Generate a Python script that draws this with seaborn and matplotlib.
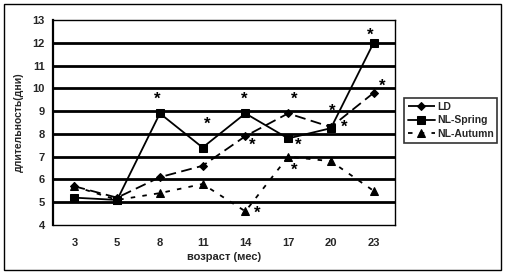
import numpy as np
import pandas as pd
import matplotlib
matplotlib.use("Agg")
import matplotlib.pyplot as plt
import seaborn as sns
from matplotlib.patches import Rectangle

# data
ages = ["3", "5", "8", "11", "14", "17", "20", "23"]
ld = [5.7, 5.2, 6.1, 6.6, 7.9, 8.9, 8.3, 9.8]
nl_spring = [5.2, 5.1, 8.9, 7.4, 8.9, 7.8, 8.25, 12.0]
nl_autumn = [5.7, 5.1, 5.4, 5.8, 4.6, 7.0, 6.8, 5.5]

# significance asterisks: (category position, value)
star_x = [1.93, 3.10, 3.97, 5.14, 6.03, 6.31, 6.92, 7.20, 4.15, 5.23, 5.14, 4.27]
star_y = [9.53, 8.43, 9.53, 9.53, 9.00, 8.30, 12.34, 10.10, 7.51, 7.51, 6.41, 4.53]

sns.set_style("white")
plt.rcParams['font.family'] = ['Liberation Sans', 'DejaVu Sans']
plt.rcParams['font.weight'] = 'bold'

df = pd.DataFrame({
    'pos': list(range(len(ages))) * 3,
    'val': ld + nl_spring + nl_autumn,
    'series': ['LD'] * 8 + ['NL-Spring'] * 8 + ['NL-Autumn'] * 8,
})

fig = plt.figure(figsize=(5.07, 2.73), dpi=100)
ax = fig.add_axes([53 / 507, 1 - 225 / 273, (395 - 53) / 507, 205 / 273])

styles = {
    'LD': dict(marker='D', markersize=4.5, dashes=(6, 3), lw=1.3),
    'NL-Spring': dict(marker='s', markersize=6, dashes=(None, None), lw=1.3),
    'NL-Autumn': dict(marker='^', markersize=6, dashes=(2.5, 4), lw=1.3),
}
for name in ['LD', 'NL-Spring', 'NL-Autumn']:
    st = styles[name]
    sub = df[df['series'] == name]
    kw = dict(data=sub, x='pos', y='val', ax=ax, color='black', label=name,
              marker=st['marker'], markersize=st['markersize'], lw=st['lw'],
              markeredgecolor='black', legend=False)
    line = sns.lineplot(**kw).lines[-1]
    if st['dashes'][0] is not None:
        line.set_dashes(st['dashes'])

for sx, sy in zip(star_x, star_y):
    ax.text(sx, sy, '*', ha='center', va='center', fontsize=12,
            fontweight='bold', color='black')

ax.set_xlim(-0.5, 7.5)
ax.set_ylim(4, 13)
ax.set_yticks(range(4, 14))
ax.set_xticks(range(len(ages)))
ax.set_xticklabels(ages)
ax.set_xticks(np.arange(-0.5, 8, 1), minor=True)
ax.tick_params(axis='x', which='major', length=0, labelsize=8, pad=9)
ax.tick_params(axis='x', which='minor', length=3, width=1, direction='out', color='black')
ax.tick_params(axis='y', length=3, width=1, direction='out', color='black', labelsize=8, pad=3)
for lab in ax.get_xticklabels() + ax.get_yticklabels():
    lab.set_fontweight('bold')

for v in range(5, 13):
    ax.axhline(v, color='black', lw=2, zorder=0)

for s in ['left']:
    ax.spines[s].set_linewidth(1.6)
for s in ['top', 'right', 'bottom']:
    ax.spines[s].set_linewidth(1.0)
for s in ax.spines.values():
    s.set_color('black')
    s.set_visible(True)

ax.set_xlabel("возраст (мес)", fontsize=8, fontweight='bold', labelpad=3)
ax.set_ylabel("длительность(дни)", fontsize=7.5, fontweight='bold', labelpad=6)

handles = ax.get_lines()[:3]
leg = fig.legend(handles, ['LD', 'NL-Spring', 'NL-Autumn'],
                 loc='upper left', bbox_to_anchor=(404 / 507, 1 - 98 / 273),
                 frameon=True, fancybox=False, edgecolor='black',
                 prop={'size': 7.5, 'weight': 'bold'}, handlelength=2.6,
                 handletextpad=0.2, borderpad=0.35, labelspacing=0.35,
                 borderaxespad=0)
leg.get_frame().set_linewidth(1.2)

fig.patches.append(Rectangle((4 / 507, 1 - 270 / 273), 497 / 507, 266 / 273,
                             transform=fig.transFigure, fill=False,
                             edgecolor='black', lw=1, zorder=-1))

fig.savefig('out.png', dpi=100)
